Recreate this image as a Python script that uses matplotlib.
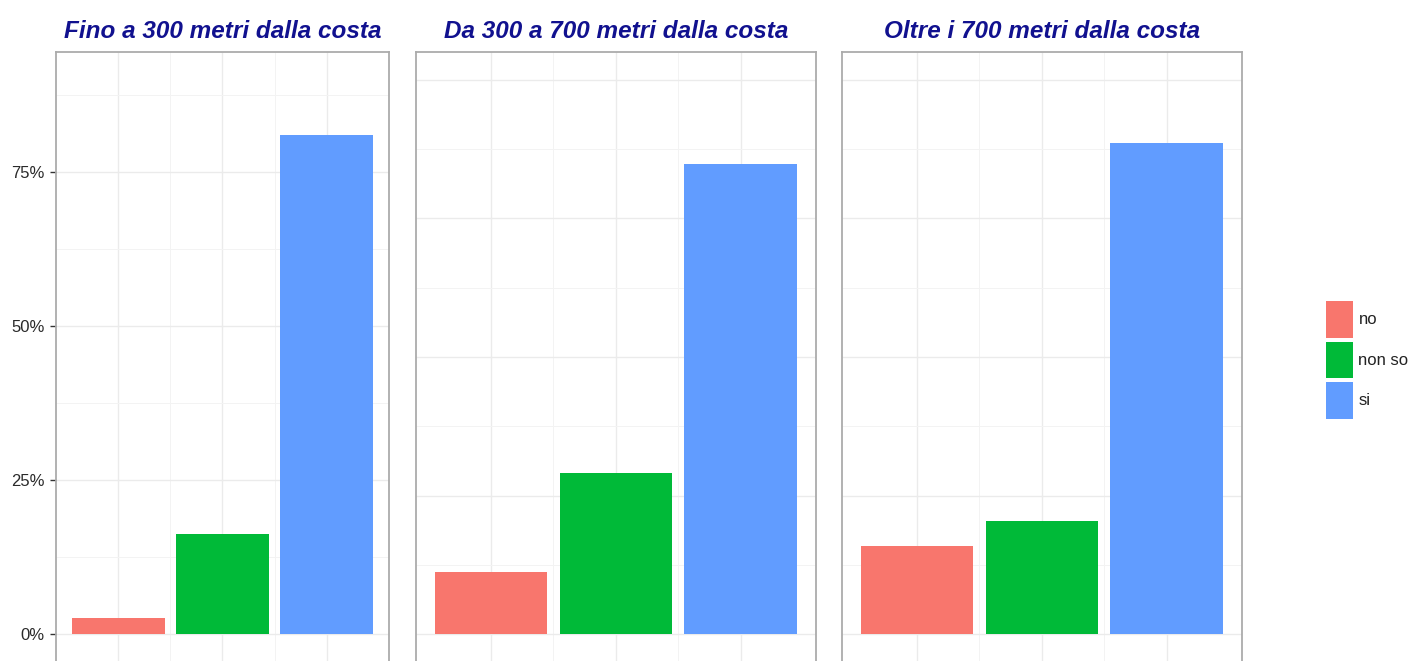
"""Risposte per fascia di distanza dalla costa: tre pannelli affiancati."""

import matplotlib as mpl
import matplotlib.pyplot as plt
from matplotlib.patches import Patch
from matplotlib.ticker import FixedLocator, FuncFormatter

mpl.rcParams.update(
    {
        "font.family": ["Liberation Sans", "DejaVu Sans"],
        "axes.axisbelow": True,
    }
)

RISPOSTE = ["no", "non so", "si"]
COLORI = ["#F8766D", "#00BA38", "#619CFF"]

TITOLI = [
    "Fino a 300 metri dalla costa",
    "Da 300 a 700 metri dalla costa",
    "Oltre i 700 metri dalla costa",
]

# percentuali per fascia (no, non so, si)
fino_300 = [2.7, 16.2, 81.1]
da_300_a_700 = [9.0, 23.2, 67.8]
oltre_700 = [12.7, 16.4, 70.9]

# limiti superiori delle scale e passo delle griglie
Y_MAX = [90, 80, 80]
Y_STEP = [25, 20, 20]

TITLE_C = "#11118f"
BORDER_C = "#ababab"
GRID_C = "#ebebeb"
MINOR_C = "#f3f3f3"

fig = plt.figure(figsize=(14.13, 6.61), dpi=100)

# posizioni dei pannelli in pixel (sinistra, destra) su una tela 1413x661
W, H = 1413, 661
pannelli_px = [(56, 389), (416, 815.5), (842, 1241.5)]
top_px, bot_px = 52, 662

serie = [fino_300, da_300_a_700, oltre_700]
x = [1, 2, 3]

for i, ((l, r), vals, titolo) in enumerate(zip(pannelli_px, serie, TITOLI)):
    ax = fig.add_axes(
        [l / W, (H - bot_px) / H, (r - l) / W, (bot_px - top_px) / H]
    )
    ax.bar(x, vals, width=0.9, color=COLORI, zorder=2)

    ymax, step = Y_MAX[i], Y_STEP[i]
    pad = 0.05 * ymax
    ax.set_ylim(-pad, ymax + pad)
    ax.set_xlim(0.4, 3.6)

    major = list(range(0, ymax + 1, step))
    minor = [m + step / 2 for m in major if m + step / 2 <= ymax + pad]
    ax.yaxis.set_major_locator(FixedLocator(major))
    ax.yaxis.set_minor_locator(FixedLocator(minor))
    ax.xaxis.set_major_locator(FixedLocator(x))
    ax.xaxis.set_minor_locator(FixedLocator([1.5, 2.5]))

    ax.grid(which="major", color=GRID_C, lw=1.0, zorder=0)
    ax.grid(which="minor", color=MINOR_C, lw=0.7, zorder=0)

    ax.tick_params(which="minor", length=0)
    ax.tick_params(axis="x", length=0, labelbottom=False)
    if i == 0:
        ax.yaxis.set_major_formatter(FuncFormatter(lambda v, _: f"{v:.0f}%"))
        ax.tick_params(
            axis="y", length=4, width=1.0, color="#333333",
            labelsize=12, labelcolor="#2a2a2a", pad=4,
        )
    else:
        ax.tick_params(axis="y", length=0, labelleft=False)

    for s in ax.spines.values():
        s.set_color(BORDER_C)
        s.set_linewidth(1.3)

    ax.set_title(
        titolo, fontsize=17.5, fontweight="bold", fontstyle="italic",
        color=TITLE_C, pad=10,
    )

handles = [Patch(facecolor=c, edgecolor="none") for c in COLORI]
fig.legend(
    handles, RISPOSTE,
    loc="center left", bbox_to_anchor=(1326 / W, 1 - 360 / H),
    frameon=False, fontsize=12, handlelength=1.6, handleheight=3.03,
    handletextpad=0.35, labelspacing=0.22, borderaxespad=0, borderpad=0,
    labelcolor="#222222",
)

fig.savefig("out.png", dpi=100)
